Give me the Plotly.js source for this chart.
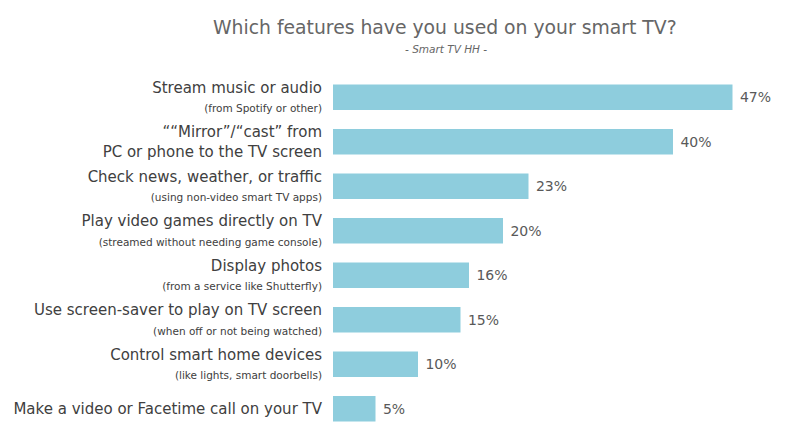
<!DOCTYPE html>
<html>
<head>
<meta charset="utf-8">
<script src="https://cdn.plot.ly/plotly-3.0.1.min.js"></script>
<style>
  html, body { margin: 0; padding: 0; background: #fff; }
  #chart { width: 800px; height: 434px; }
</style>
</head>
<body>
<div id="chart"></div>
<script>
// ── data ──
const mainLabels = [
    'Stream music or audio',
    '““Mirror”/“cast” from',
    'Check news, weather, or traffic',
    'Play video games directly on TV',
    'Display photos',
    'Use screen-saver to play on TV screen',
    'Control smart home devices',
    'Make a video or Facetime call on your TV',
];
const subLabels = [
    '(from Spotify or other)',
    'PC or phone to the TV screen',
    '(using non-video smart TV apps)',
    '(streamed without needing game console)',
    '(from a service like Shutterfly)',
    '(when off or not being watched)',
    '(like lights, smart doorbells)',
    '',
];
const values = [47, 40, 23, 20, 16, 15, 10, 5];

const FONT = '"DejaVu Sans", Lato, sans-serif';
const GREY = '#595959';

// second line of the mirror/cast label is a full size line, the rest are small notes
const ticktext = mainLabels.map((m, i) => {
    const s = subLabels[i];
    if (!s) return m;
    if (i === 1) return m + '<br>' + s;
    return m + '<br><span style="font-size:10.5px">' + s + '</span>';
});
const cats = mainLabels.map((_, i) => 'c' + i);

Plotly.newPlot('chart', [{
    type: 'bar',
    orientation: 'h',
    y: cats,
    x: values,
    marker: { color: '#8ECDDD' },
    text: values.map(v => ' ' + v + '%'),
    textposition: 'outside',
    cliponaxis: false,
    textfont: { family: FONT, size: 14, color: GREY },
    hoverinfo: 'skip',
}], {
    width: 800, height: 434,
    paper_bgcolor: '#fff', plot_bgcolor: '#fff',
    font: { family: FONT, color: GREY },
    margin: { t: 75, r: 50, b: 3, l: 333 },
    bargap: 0.43,
    showlegend: false,
    title: {
        text: 'Which features have you used on your smart TV?',
        x: 0.556, xanchor: 'center', y: 0.937, yanchor: 'middle',
        font: { family: FONT, size: 18.8, color: '#666' },
    },
    annotations: [{
        text: '<i>- Smart TV HH -</i>',
        xref: 'paper', yref: 'paper',
        x: 0.271, xanchor: 'center', y: 1.073, yanchor: 'middle',
        showarrow: false,
        font: { family: FONT, size: 10.5, color: '#666' },
    }],
    xaxis: {
        range: [0, 49.06],
        visible: false,
        fixedrange: true,
    },
    yaxis: {
        autorange: 'reversed',
        tickvals: cats,
        ticktext: ticktext,
        tickfont: { family: FONT, size: 15, color: '#404040' },
        ticklabelstandoff: 10,
        showline: false, showgrid: false, zeroline: false,
        ticks: '', ticklen: 0,
        fixedrange: true,
    },
}, { displayModeBar: false, staticPlot: true });
</script>
</body>
</html>
